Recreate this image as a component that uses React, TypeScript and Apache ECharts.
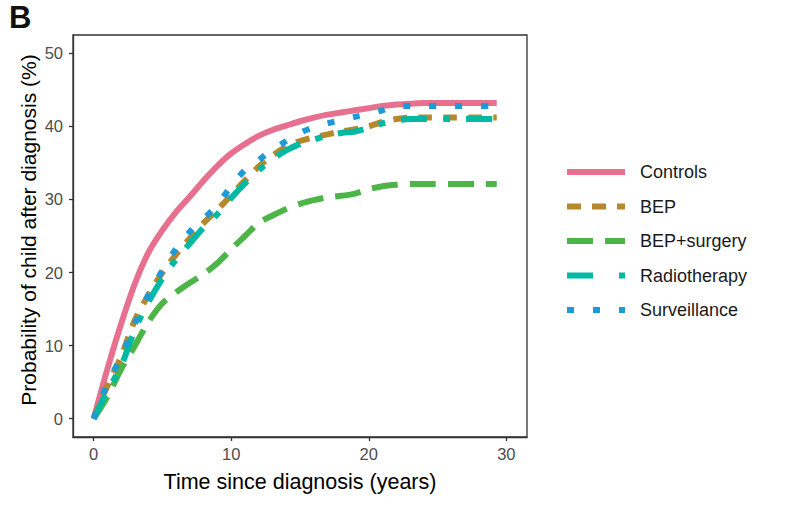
import React, { useEffect, useRef } from "react";
import * as echarts from "echarts";

const years = [0, 1, 2, 3, 4, 5, 6, 7, 8, 9, 10, 11, 12, 13, 14, 15, 16, 17, 18, 19, 20, 21, 22, 23, 24, 26, 28, 29.3];
const controls = [0, 6.8, 13, 18.5, 22.8, 25.8, 28.3, 30.4, 32.6, 34.6, 36.3, 37.6, 38.7, 39.5, 40.1, 40.7, 41.2, 41.6, 41.9, 42.2, 42.5, 42.8, 43.0, 43.1, 43.2, 43.2, 43.2, 43.2];
const bep = [0, 4.5, 8.5, 13.5, 17, 20, 22.5, 24.7, 26.8, 28.6, 30.6, 32.6, 34.5, 36, 37.2, 38, 38.5, 38.9, 39.3, 39.6, 40, 40.6, 41, 41.2, 41.2, 41.2, 41.2, 41.2];
const bepSurgery = [0, 3, 6.8, 10, 13.3, 15.8, 17.3, 18.6, 19.8, 21.3, 23.2, 25, 26.8, 27.8, 28.7, 29.4, 29.9, 30.3, 30.5, 30.8, 31.4, 31.8, 32.0, 32.1, 32.1, 32.1, 32.1, 32.1];
const radiotherapy = [0, 3.8, 7.2, 12.2, 16, 19.2, 21.8, 24, 26.2, 28, 30.2, 32.2, 34, 35.5, 36.7, 37.6, 38.2, 38.7, 39.1, 39.3, 39.8, 40.4, 40.8, 41.0, 41.0, 41.0, 41.0, 41.0];
const surveillance = [0, 4.8, 8.5, 13, 17, 20.3, 23.3, 25.6, 27.4, 29.2, 31.9, 34, 35.4, 36.8, 38, 39.1, 39.9, 40.4, 40.9, 41.3, 41.7, 42.2, 42.8, 42.8, 42.8, 42.8, 42.8, 42.8];

const seriesNames = ["Controls", "BEP", "BEP+surgery", "Radiotherapy", "Surveillance"];
const seriesValues = [controls, bep, bepSurgery, radiotherapy, surveillance];
const colors = ["#E8708F", "#B5882E", "#4DB548", "#00B9A3", "#1E9AD6"];
const dashes: any[] = ["solid", [14, 11], [26, 12], [26, 16, 7, 16], [7, 19]];
const legendDashes: any[] = ["solid", [14, 11], [26, 12], [26, 26, 7, 26], [7, 19]];

const xTicks = [0, 10, 20, 30];
const yTicks = [0, 10, 20, 30, 40, 50];

const FONT = "'Liberation Sans', Arial, Helvetica, sans-serif";

export default function App() {
  const ref = useRef<HTMLDivElement>(null);
  useEffect(() => {
    if (!ref.current) return;
    const chart = echarts.init(ref.current, undefined, { renderer: "svg" });
    const series = seriesNames.map((name, i) => ({
      name,
      type: "line",
      data: years.map((t, j) => [t, seriesValues[i][j]]),
      symbol: "none",
      showSymbol: false,
      smooth: 0.3,
      z: 2 + i,
      lineStyle: { color: colors[i], width: 6, type: dashes[i], cap: "butt" },
      itemStyle: { color: colors[i] },
    }));
    chart.setOption({
      animation: false,
      textStyle: { fontFamily: FONT },
      grid: { left: 73, right: 265, top: 35, bottom: 75, show: true, borderColor: "#333", borderWidth: 1.3, containLabel: false },
      xAxis: {
        type: "value",
        min: -1.5,
        max: 31.5,
        name: "Time since diagnosis (years)",
        nameLocation: "middle",
        nameGap: 34,
        nameTextStyle: { fontSize: 21.5, color: "#000", fontFamily: FONT },
        splitLine: { show: false },
        axisLine: { show: true, onZero: false, lineStyle: { color: "#333", width: 1.3 } },
        axisTick: { show: true, length: 4, lineStyle: { color: "#333", width: 1.3 }, customValues: xTicks },
        axisLabel: { fontSize: 16.5, color: "#4d4d4d", margin: 8, fontFamily: FONT, customValues: xTicks },
      },
      yAxis: {
        type: "value",
        min: -2.5,
        max: 52.5,
        splitLine: { show: false },
        axisLine: { show: true, onZero: false, lineStyle: { color: "#333", width: 1.3 } },
        axisTick: { show: true, length: 4, lineStyle: { color: "#333", width: 1.3 }, customValues: yTicks },
        axisLabel: { fontSize: 16.5, color: "#4d4d4d", margin: 10, fontFamily: FONT, customValues: yTicks },
      },
      legend: {
        orient: "vertical",
        left: 559,
        top: 157,
        itemWidth: 58,
        itemHeight: 7,
        itemGap: 14.5,
        textStyle: { fontSize: 18, color: "#1a1a1a", fontFamily: FONT, lineHeight: 20, padding: [0, 0, 0, 10] },
        data: seriesNames.map((name, i) => ({
          name,
          itemStyle: { opacity: 0 },
          lineStyle: { type: legendDashes[i], width: 6, cap: "butt" },
        })),
      },
      graphic: [
        {
          type: "text",
          left: 9,
          top: 2,
          style: { text: "B", fontSize: 31, fontWeight: "bold", fill: "#111", fontFamily: FONT },
        },
        {
          type: "text",
          x: 28,
          y: 230,
          rotation: Math.PI / 2,
          style: {
            text: "Probability of child after diagnosis (%)",
            fontSize: 21,
            fill: "#000",
            fontFamily: FONT,
            align: "center",
            verticalAlign: "middle",
          },
        },
      ],
      series,
    });
    return () => chart.dispose();
  }, []);
  return <div ref={ref} style={{ position: "absolute", left: 0, top: 0, width: 792, height: 512 }} />;
}
